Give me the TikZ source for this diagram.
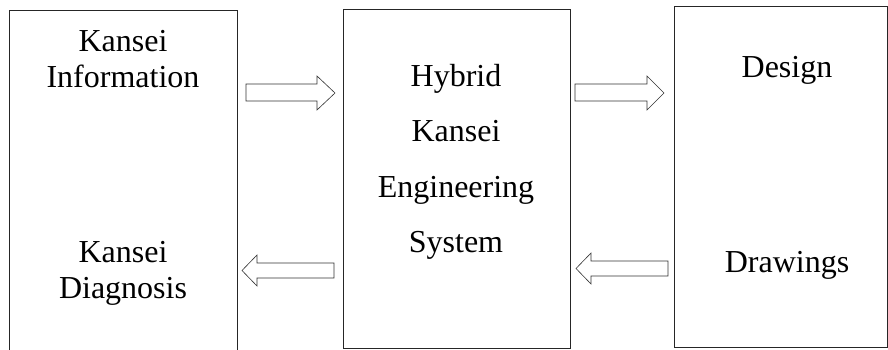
\documentclass[tikz,border=0pt]{standalone}
\usepackage{fontspec}
\setmainfont{Liberation Serif}
\begin{document}
\begin{tikzpicture}[x=1pt,y=-1pt,
  box/.style={draw=black!85,line width=1pt},
  blockarrow/.style={draw=black!80,line width=0.6pt,fill=white,line join=miter},
  lbl/.style={anchor=base,inner sep=0pt,font=\fontsize{32}{36}\selectfont}]
\useasboundingbox (0,0) rectangle (888,350);
\clip (0,0) rectangle (888,350);
% boxes
\draw[box] (9,11) rectangle (237,360);
\draw[box] (343,10) rectangle (570,348);
\draw[box] (674,7) rectangle (887,347);
% left texts
\node[lbl] (t1) at (123,52) {Kansei};
\node[lbl] (t2) at (123,87.5) {Information};
\node[lbl] (t3) at (123,262) {Kansei};
\node[lbl] (t4) at (123,298.5) {Diagnosis};
% middle texts
\node[lbl] (m1) at (456,87) {Hybrid};
\node[lbl] (m2) at (456,142) {Kansei};
\node[lbl] (m3) at (456,197) {Engineering};
\node[lbl] (m4) at (456,252) {System};
% right texts
\node[lbl] (r1) at (787,78) {Design};
\node[lbl] (r2) at (787,272) {Drawings};
% block arrows
\draw[blockarrow] (246,84) -- (317,84) -- (317,76) -- (335,93) -- (317,110) -- (317,101) -- (246,101) -- cycle;
\draw[blockarrow] (575,84) -- (647,84) -- (647,76) -- (664,93) -- (647,110) -- (647,101) -- (575,101) -- cycle;
\draw[blockarrow] (334,263) -- (257,263) -- (257,255) -- (242,270.5) -- (257,286) -- (257,278) -- (334,278) -- cycle;
\draw[blockarrow] (668,261) -- (591,261) -- (591,253) -- (576,268.5) -- (591,284) -- (591,276) -- (668,276) -- cycle;
\end{tikzpicture}
\end{document}
